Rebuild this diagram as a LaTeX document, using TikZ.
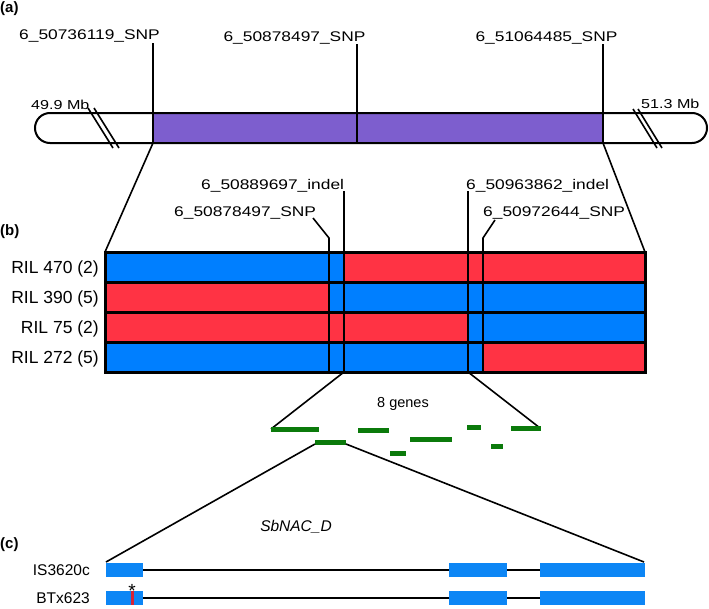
\documentclass[tikz,border=0pt]{standalone}
\usepackage{fontspec}
\setmainfont{Liberation Sans}
\newfontfamily\widefont[FakeStretch=1.24]{Liberation Sans}
\usetikzlibrary{calc}

\definecolor{chrpurple}{RGB}{125,94,206}
\definecolor{rilblue}{RGB}{0,127,255}
\definecolor{rilred}{RGB}{255,51,68}
\definecolor{genegreen}{RGB}{11,122,11}
\definecolor{exonblue}{RGB}{13,134,245}
\definecolor{snpred}{RGB}{215,35,55}

\tikzset{
  panel/.style={font=\fontsize{15}{15}\selectfont\bfseries,anchor=base west,inner sep=0pt},
  marker/.style={font=\widefont\fontsize{14}{14}\selectfont,anchor=base,inner sep=0pt},
  mb/.style={font=\widefont\fontsize{13}{13}\selectfont,anchor=base west,inner sep=0pt},
  ril/.style={font=\fontsize{17.5}{17.5}\selectfont,anchor=base east,inner sep=0pt},
  acc/.style={font=\fontsize{15.5}{15.5}\selectfont,anchor=base east,inner sep=0pt},
  gene/.style={genegreen,line width=5pt},
  exon/.style={fill=exonblue},
  link/.style={black,line width=1.6pt},
}

\begin{document}
\begin{tikzpicture}[x=1pt,y=-1pt]
\useasboundingbox (0,0) rectangle (709,608);
% (a) chromosome
\node[panel] (pa) at (0,12) {(a)};
\fill[chrpurple] (153,113) rectangle (603,143);
\draw[line width=2pt,rounded corners=15pt] (35,113) rectangle (707,143);
\coordinate (c1) at (153,143);
\coordinate (c2) at (357,143);
\coordinate (c3) at (603,143);
\node[marker] (snpa1) at (89.5,39.5) {6\_50736119\_SNP};
\node[marker] (snpa2) at (294.5,41) {6\_50878497\_SNP};
\node[marker] (snpa3) at (546.5,41) {6\_51064485\_SNP};
\draw[link] (153,43) -- (c1);
\draw[line width=2.4pt] (357,44) -- (c2);
\draw[link] (603,44) -- (c3);
\node[mb] (mbl) at (31,109) {49.9 Mb};
\node[mb] (mbr) at (641,108.5) {51.3 Mb};
\draw[link] (88,108) -- (113,148);
\draw[link] (94,108) -- (119,148);
\draw[link] (633,109) -- (657,148);
\draw[link] (638,109) -- (662,148);

% (b) recombinants
\node[panel] (pb) at (0,235) {(b)};
\coordinate (bnw) at (105,252);
\coordinate (bne) at (645,252);
\draw[link] (c1) -- (bnw);
\draw[link] (c3) -- (bne);
\foreach \y/\a/\b/\c/\d/\e in {
  252/rilblue/rilblue/rilred/rilred/rilred,
  282/rilred/rilblue/rilblue/rilblue/rilblue,
  312/rilred/rilred/rilred/rilblue/rilblue,
  342/rilblue/rilblue/rilblue/rilblue/rilred}{
  \fill[\a] (105,\y) rectangle (329,\y+30);
  \fill[\b] (329,\y) rectangle (344,\y+30);
  \fill[\c] (344,\y) rectangle (468,\y+30);
  \fill[\d] (468,\y) rectangle (483,\y+30);
  \fill[\e] (483,\y) rectangle (645,\y+30);
}
\foreach \y in {282,312,342}
  \draw[line width=3pt] (105,\y) -- (645,\y);
\foreach \x in {329,344,468,483}
  \draw[line width=2.4pt] (\x,252) -- (\x,372);
\draw[line width=3pt] (105,252) rectangle (645,372);
\node[marker,anchor=base west] (ina) at (201,189.5) {6\_50889697\_indel};
\node[marker,anchor=base west] (inb) at (466,189.5) {6\_50963862\_indel};
\node[marker,anchor=base west] (snpb1) at (174,216.5) {6\_50878497\_SNP};
\node[marker,anchor=base west] (snpb2) at (483,216.5) {6\_50972644\_SNP};
\draw[link] (344,191) -- (344,252);
\draw[link] (468,191) -- (468,252);
\draw[link] (313,218) -- (329,238) -- (329,252);
\draw[link] (495,220) -- (483,238) -- (483,252);
%lines
\node[ril] (r470) at (99,273.5) {RIL 470 (2)};
\node[ril] (r390) at (99,303.5) {RIL 390 (5)};
\node[ril] (r75) at (99,333.5) {RIL 75 (2)};
\node[ril] (r272) at (99,363.5) {RIL 272 (5)};

% genes
\coordinate (bsw) at (344,372);
\coordinate (bse) at (468,372);
\coordinate (g1) at (271,429);
\coordinate (g4) at (540,428);
\draw[link] (bsw) -- (g1);
\draw[link] (bse) -- (g4);
\node[font=\fontsize{14.5}{14.5}\selectfont,anchor=base,inner sep=0pt] (ngenes) at (403,407) {8 genes};
\foreach \xa/\xb/\y in {271/319/429, 358/389/430, 467/481/427, 511/541/428,
  315/346/442, 410/452/439, 491/503/446, 390/406/453}
  \draw[gene] (\xa,\y) -- (\xb,\y);

% (c) gene model
\node[panel] (pc) at (0,548) {(c)};
\coordinate (g5a) at (315,444);
\coordinate (g5b) at (346,444);
\coordinate (enw) at (106,562);
\coordinate (ene) at (644,562);
\draw[link] (g5a) -- (enw);
\draw[link] (g5b) -- (ene);
\node[font=\fontsize{15.5}{15.5}\selectfont\itshape,anchor=base,inner sep=0pt] (nac) at (296,531) {SbNAC\_D};
\node[acc] (is) at (90,575.5) {IS3620c};
\node[acc] (bt) at (90,603.5) {BTx623};
\foreach \y in {570,598}{
  \draw[line width=1.5pt] (143,\y) -- (540,\y);
  \fill[exonblue] (106,\y-7) rectangle (143,\y+7);
  \fill[exonblue] (449,\y-7) rectangle (507,\y+7);
  \fill[exonblue] (540,\y-7) rectangle (645,\y+7);
}
\draw[snpred,line width=3pt] (132,591) -- (132,605);
\node[font=\fontsize{19}{19}\selectfont,anchor=base,inner sep=0pt] (star) at (132,597.5) {*};
\end{tikzpicture}
\end{document}
